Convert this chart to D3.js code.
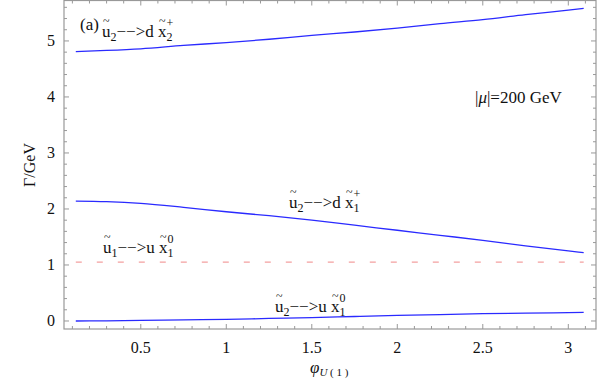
<!DOCTYPE html>
<html>
<head>
<meta charset="utf-8">
<script src="https://cdn.jsdelivr.net/npm/d3@7"></script>
<style>
  body { margin: 0; background: #fff; }
  text { font-family: "Liberation Serif", "Times New Roman", serif; fill: #111; }
</style>
</head>
<body>
<div id="chart"></div>
<script>
// phase values along x
var phi = [0.12, 0.3, 0.5, 0.75, 1.0, 1.25, 1.5, 1.75, 2.0, 2.25, 2.5, 2.75, 3.0, 3.09];
// widths (GeV)
var u2_d_x2p = [4.81, 4.83, 4.86, 4.92, 4.97, 5.03, 5.10, 5.16, 5.23, 5.31, 5.38, 5.47, 5.55, 5.58];
var u2_d_x1p = [2.14, 2.13, 2.10, 2.03, 1.95, 1.88, 1.80, 1.71, 1.62, 1.53, 1.44, 1.34, 1.25, 1.22];
var u1_u_x10 = [1.05, 1.05, 1.05, 1.05, 1.05, 1.05, 1.05, 1.05, 1.05, 1.05, 1.05, 1.05, 1.05, 1.05];
var u2_u_x10 = [0.0, 0.003, 0.01, 0.02, 0.03, 0.045, 0.06, 0.08, 0.10, 0.115, 0.13, 0.14, 0.15, 0.155];
var xTicks = [0.5, 1, 1.5, 2, 2.5, 3];
var yTicks = [0, 1, 2, 3, 4, 5];

var W = 615, H = 380;
var pLeft = 64, pRight = 596, pTop = 0.5, pBottom = 329;

var svg = d3.select("#chart").append("svg")
  .attr("width", W).attr("height", H);

var x = d3.scaleLinear().domain([0.051, 3.162]).range([pLeft, pRight]);
var y = d3.scaleLinear().domain([-0.143, 5.722]).range([pBottom, pTop]);

var frameColor = "#999";

// frame
svg.append("rect")
  .attr("x", pLeft).attr("y", pTop)
  .attr("width", pRight - pLeft).attr("height", pBottom - pTop)
  .attr("fill", "none").attr("stroke", frameColor).attr("stroke-width", 1.2);

// ticks, inward on all sides
var xMinor = d3.range(1, 32).map(function(i) { return i / 10; }).filter(function(v) { return v > 0.051 && v < 3.162; });
var yMinor = d3.range(0, 29).map(function(i) { return i / 5; }).filter(function(v) { return v < 5.722; });

function isMajor(v, step) { return Math.abs(v / step - Math.round(v / step)) < 1e-6; }

var tg = svg.append("g").attr("stroke", frameColor).attr("stroke-width", 1);
xMinor.forEach(function(v) {
  var len = isMajor(v, 0.5) ? 5 : 3;
  tg.append("line").attr("x1", x(v)).attr("x2", x(v)).attr("y1", pBottom).attr("y2", pBottom - len);
  tg.append("line").attr("x1", x(v)).attr("x2", x(v)).attr("y1", pTop).attr("y2", pTop + len);
});
yMinor.forEach(function(v) {
  var len = isMajor(v, 1) ? 5 : 3;
  tg.append("line").attr("y1", y(v)).attr("y2", y(v)).attr("x1", pLeft).attr("x2", pLeft + len);
  tg.append("line").attr("y1", y(v)).attr("y2", y(v)).attr("x1", pRight).attr("x2", pRight - len);
});

// tick labels
svg.selectAll(".xt").data(xTicks).enter().append("text")
  .attr("x", function(d) { return x(d); }).attr("y", 353)
  .attr("text-anchor", "middle").style("font-size", "16px")
  .text(function(d) { return d; });
svg.selectAll(".yt").data(yTicks).enter().append("text")
  .attr("x", 55).attr("y", function(d) { return y(d) + 5; })
  .attr("text-anchor", "end").style("font-size", "16px")
  .text(function(d) { return d; });

// axis titles
svg.append("text")
  .attr("transform", "translate(35,165) rotate(-90)")
  .attr("text-anchor", "middle").style("font-size", "16px")
  .text("\u0393/GeV");

var xl = svg.append("text").attr("x", 310).attr("y", 373).style("font-size", "17px");
xl.append("tspan").style("font-style", "italic").text("\u03c6");
xl.append("tspan").attr("dy", 3).style("font-size", "11px").style("font-style", "italic").text("U");
xl.append("tspan").style("font-size", "11px").text("\u00a0(\u00a01\u00a0)");

// curves
var line = d3.line()
  .x(function(d, i) { return x(phi[i]); })
  .y(function(d) { return y(d); })
  .curve(d3.curveMonotoneX);

[u2_d_x2p, u2_d_x1p, u2_u_x10].forEach(function(s) {
  svg.append("path").datum(s).attr("d", line)
    .attr("fill", "none").attr("stroke", "#2a2aff").attr("stroke-width", 1.3);
});
svg.append("path").datum(u1_u_x10).attr("d", line)
  .attr("fill", "none").attr("stroke", "#f4a0a0").attr("stroke-width", 1.2)
  .attr("stroke-dasharray", "6,15");

// label builder: pieces drawn one after another
function label(x0, y0, pieces) {
  var g = svg.append("g");
  var cx = x0;
  pieces.forEach(function(p) {
    if (p.stack) {
      var a = g.append("text").attr("x", cx).attr("y", y0 - 10).style("font-size", "12px").text(p.stack[0]);
      var b = g.append("text").attr("x", cx).attr("y", y0 + 4).style("font-size", "12px").text(p.stack[1]);
      cx += Math.max(a.node().getComputedTextLength(), b.node().getComputedTextLength());
      return;
    }
    var t = g.append("text").attr("x", cx).attr("y", p.sub ? y0 + 4 : y0)
      .style("font-size", p.sub ? "12px" : "17px").text(p.t);
    var w = t.node().getComputedTextLength();
    if (p.tilde) {
      g.append("text").attr("x", cx + w / 2).attr("y", y0 - 12)
        .attr("text-anchor", "middle").style("font-size", "12px").text("~");
    }
    cx += w;
  });
}

function decay(x0, y0, i, q, j, sign) {
  label(x0, y0, [
    {t: "u", tilde: true}, {t: i, sub: true}, {t: "\u2212\u2212>" + q + "\u00a0"},
    {t: "x", tilde: true}, {stack: [sign, j]}
  ]);
}

svg.append("text").attr("x", 80).attr("y", 30).style("font-size", "17px").text("(a)");
decay(102, 37, "2", "d", "2", "+");
decay(289, 208, "2", "d", "1", "+");
decay(103, 253, "1", "u", "1", "0");
decay(275, 312, "2", "u", "1", "0");

var mu = svg.append("text").attr("x", 475).attr("y", 103).style("font-size", "17px");
mu.append("tspan").text("|");
mu.append("tspan").style("font-style", "italic").text("\u03bc");
mu.append("tspan").text("|=200 GeV");
</script>
</body>
</html>
